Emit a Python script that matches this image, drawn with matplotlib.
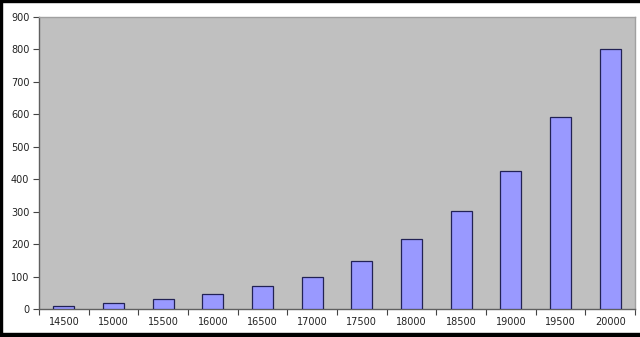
import numpy as np
import matplotlib.pyplot as plt
from matplotlib.patches import Rectangle

# 数据
categories = ['14500', '15000', '15500', '16000', '16500', '17000',
              '17500', '18000', '18500', '19000', '19500', '20000']
values = [10, 17, 30, 45, 70, 99, 148, 215, 302, 425, 592, 802]
y_ticks = [0, 100, 200, 300, 400, 500, 600, 700, 800, 900]

W, H = 640, 337
fig = plt.figure(figsize=(W / 100, H / 100), dpi=100)
fig.patch.set_facecolor('white')

# 绘图区位置（像素换算）
left, right, top, bottom = 39, 635, 17, 309
ax = fig.add_axes([left / W, 1 - bottom / H, (right - left) / W, (bottom - top) / H])
ax.set_facecolor('#C0C0C0')

x = np.arange(len(categories))
ax.bar(x, values, width=0.42, color='#9999FF', edgecolor='#222255', linewidth=0.9, zorder=3)

ax.set_xlim(-0.5, len(categories) - 0.5)
ax.set_ylim(0, 900)
ax.set_yticks(y_ticks)
ax.set_yticklabels([str(v) for v in y_ticks], fontsize=7, color='#222222')

# x刻度在类别之间，标签在中间
ax.set_xticks(np.arange(-0.5, len(categories), 1.0))
ax.set_xticklabels([])
ax.set_xticks(x, minor=True)
ax.set_xticklabels(categories, minor=True, fontsize=7, color='#222222')
ax.tick_params(axis='x', which='major', length=4, width=0.8, color='#444444', direction='out')
ax.tick_params(axis='x', which='minor', length=0, pad=6)
ax.tick_params(axis='y', length=4, width=0.8, color='#444444', direction='out', pad=3)

for side in ['top', 'right']:
    ax.spines[side].set_color('#A0A0A0')
    ax.spines[side].set_linewidth(1.0)
for side in ['left', 'bottom']:
    ax.spines[side].set_color('#606060')
    ax.spines[side].set_linewidth(1.0)

# 黑色外框
fig.patches.append(Rectangle((0, 1 - 2 / H), 1, 2 / H, transform=fig.transFigure, color='black'))
fig.patches.append(Rectangle((0, 0), 2 / W, 1, transform=fig.transFigure, color='black'))
fig.patches.append(Rectangle((0, 0), 1, 4 / H, transform=fig.transFigure, color='black'))

fig.savefig('out.png', dpi=100)
